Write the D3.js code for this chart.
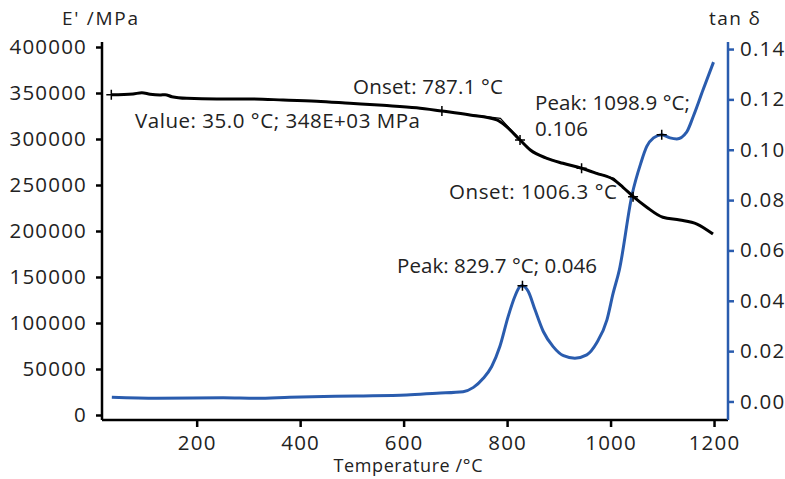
<!DOCTYPE html>
<html>
  <head>
    <title>DMA</title>
    <script src="https://d3js.org/d3.v7.min.js"></script>
    <style>
      body { margin: 0; background: #fff; }
      text { font-family: "Open Sans", sans-serif; fill: #222; }
    </style>
  </head>
  <body>
    <svg width="785" height="479"></svg>
    <script>
      // storage modulus E' (MPa) vs temperature
      const eTemp = [35, 77, 94, 110, 129, 139, 152, 181, 239, 303, 367, 432, 496, 560, 625, 674, 728, 780, 799, 825, 845, 877, 908, 944, 973, 1005, 1024, 1044, 1070, 1101, 1134, 1167, 1198];
      const eMod = [348000, 349000, 350300, 348600, 347800, 348200, 346000, 344200, 343500, 343500, 342400, 341000, 338800, 336600, 334000, 330400, 326100, 320700, 313400, 298900, 288000, 279000, 273600, 268200, 262700, 256200, 247500, 237300, 225800, 214900, 212000, 207600, 196700];

      // tan delta vs temperature
      const tanTemp = [36, 123, 251, 316, 380, 509, 606, 664, 715, 735, 754, 770, 786, 802, 815, 825, 829.7, 841, 854, 870, 889, 909, 931, 954, 973, 993, 1005, 1017, 1041.5, 1058.5, 1070, 1083, 1098.9, 1115, 1128, 1147, 1160, 1179, 1199];
      const tanVal = [0.0017, 0.0013, 0.0015, 0.0013, 0.0017, 0.0022, 0.0026, 0.0033, 0.0039, 0.0056, 0.0092, 0.0138, 0.0218, 0.0337, 0.0417, 0.0457, 0.046, 0.0437, 0.0364, 0.0278, 0.0218, 0.0182, 0.0172, 0.0185, 0.0232, 0.0324, 0.043, 0.0523, 0.0821, 0.0947, 0.1013, 0.1047, 0.106, 0.1047, 0.1043, 0.107, 0.1133, 0.1239, 0.1348];

      // evaluation marks
      const eMarkT = [35, 674, 825, 944, 1043.5];
      const eMarkV = [348000, 330400, 298900, 268200, 237300];
      const tanMarkT = [829.7, 1098.9];
      const tanMarkV = [0.046, 0.106];
      const onset1 = [[674, 330400], [787.1, 322500], [825, 298900]];
      const onset2 = [[944, 268200], [1006.3, 257300], [1043.5, 237300]];

      const xTicks = [200, 400, 600, 800, 1000, 1200];
      const xMinor = [100, 300, 500, 700, 900, 1100];
      const eTicks = d3.range(0, 400001, 50000);
      const eMinor = d3.range(25000, 400000, 50000);
      const tanTicks = d3.range(0, 0.1401, 0.02);
      const tanMinor = d3.range(0.01, 0.14, 0.02);

      const blue = "#2a5cae";
      const textBlue = "#4a4f9c";

      const svg = d3.select("svg");
      const pl = 102, pr = 728, pt = 42, pb = 420;

      const x = d3.scaleLinear().domain([17, 1227]).range([pl, pr]);
      const yE = d3.scaleLinear().domain([-5435, 405435]).range([pb, pt]);
      const yT = d3.scaleLinear().domain([-0.00736, 0.1428]).range([pb, pt]);

      // axes
      const gx = svg.append("g").attr("transform", `translate(0,${pb})`);
      gx.call(d3.axisBottom(x).tickValues(xMinor).tickSize(5).tickFormat(""));
      gx.call(d3.axisBottom(x).tickValues(xTicks).tickSize(7).tickPadding(8).tickFormat(d3.format("d")));
      gx.select(".domain").attr("d", `M${pl},0H${pr}`);

      const gl = svg.append("g").attr("transform", `translate(${pl},0)`);
      gl.call(d3.axisLeft(yE).tickValues(eMinor).tickSize(5).tickFormat(""));
      gl.call(d3.axisLeft(yE).tickValues(eTicks).tickSize(6).tickPadding(9).tickFormat(d3.format("d")));
      gl.select(".domain").attr("d", `M0,${pt}V${pb}`);

      const gr = svg.append("g").attr("transform", `translate(${pr},0)`);
      gr.call(d3.axisRight(yT).tickValues(tanMinor).tickSize(5).tickFormat(""));
      gr.call(d3.axisRight(yT).tickValues(tanTicks).tickSize(6).tickPadding(6).tickFormat(d3.format(".2f")));
      gr.select(".domain").attr("d", `M0,${pt}V${pb}`);

      svg.selectAll(".domain").attr("stroke-width", 2.5);
      gx.selectAll("line").attr("stroke-width", 2.5);
      gl.selectAll("line").attr("stroke-width", 2.5);
      gr.selectAll("line").attr("stroke-width", 2.5).attr("stroke", blue);
      gr.selectAll(".domain").attr("stroke", blue);
      svg.selectAll(".tick text")
        .attr("font-family", "Open Sans")
        .attr("font-size", 20.5)
        .attr("fill", "#222")
        .style("letter-spacing", "1.2px");

      // axis titles
      const title = (tx, ty, fs, anchor, w, s) => svg.append("text").attr("x", tx).attr("y", ty)
        .attr("font-size", fs).attr("text-anchor", anchor)
        .attr("textLength", w).attr("lengthAdjust", "spacing").text(s);
      title(62, 25, 19, "start", 76, "E' /MPa");
      title(760, 25, 19, "end", 51, "tan δ");
      title(408, 472, 18, "middle", 149, "Temperature /°C");

      // curves
      const eLine = d3.line().x(d => x(d[0])).y(d => yE(d[1])).curve(d3.curveMonotoneX);
      const tLine = d3.line().x(d => x(d[0])).y(d => yT(d[1])).curve(d3.curveMonotoneX);

      svg.append("path").datum(d3.zip(tanTemp, tanVal))
        .attr("d", tLine).attr("fill", "none").attr("stroke", blue).attr("stroke-width", 3);
      svg.append("path").datum(d3.zip(eTemp, eMod))
        .attr("d", eLine).attr("fill", "none").attr("stroke", "#000").attr("stroke-width", 3);

      const tangent = d3.line().x(d => x(d[0])).y(d => yE(d[1]));
      [onset1, onset2].forEach(o => {
        svg.append("path").attr("d", tangent(o)).attr("fill", "none").attr("stroke", "#000").attr("stroke-width", 1.3);
      });

      // "+" markers
      const plus = (px, py) => {
        svg.append("path").attr("d", `M${px - 5},${py}H${px + 5}M${px},${py - 5}V${py + 5}`)
          .attr("stroke", "#000").attr("stroke-width", 1.5);
      };
      eMarkT.forEach((t, i) => plus(x(t), yE(eMarkV[i])));
      tanMarkT.forEach((t, i) => plus(x(t), yT(tanMarkV[i])));

      // annotations
      const note = (tx, ty, w, s, col) => svg.append("text").attr("x", tx).attr("y", ty)
        .attr("font-size", 20.5).attr("fill", col)
        .attr("textLength", w).attr("lengthAdjust", "spacing").text(s);
      note(135, 128, 285, "Value: 35.0 °C; 348E+03 MPa", "#222");
      note(353, 94, 150, "Onset: 787.1 °C", "#222");
      note(449, 199, 168, "Onset: 1006.3 °C", "#222");
      note(535, 110, 155, "Peak: 1098.9 °C;", textBlue);
      note(535, 136, 53, "0.106", textBlue);
      note(397, 273, 200, "Peak: 829.7 °C; 0.046", textBlue);
    </script>
  </body>
</html>
